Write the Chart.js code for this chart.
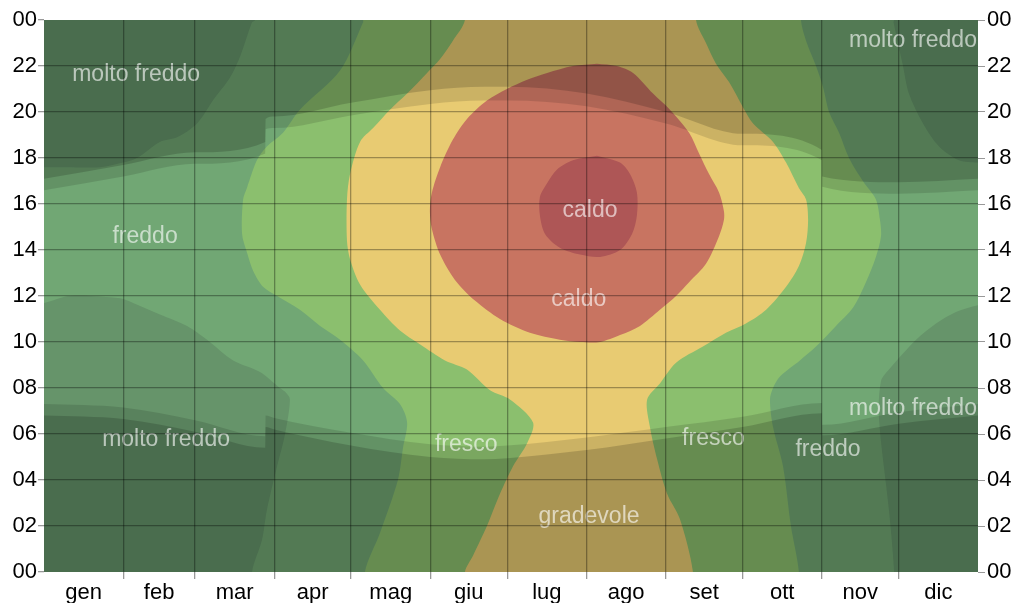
<!DOCTYPE html>
<html>
<head>
<meta charset="utf-8">
<script src="https://cdn.jsdelivr.net/npm/chart.js@4.4.1/dist/chart.umd.min.js"></script>
<style>
  html, body { margin: 0; padding: 0; background: #fff; }
  #wrap { width: 1016px; height: 603px; }
</style>
</head>
<body>
<div id="wrap"><canvas id="chart"></canvas></div>
<script>
// months (x axis is day of year 0..365)
const months = ['gen', 'feb', 'mar', 'apr', 'mag', 'giu', 'lug', 'ago', 'set', 'ott', 'nov', 'dic'];
const monthStarts = [0, 31, 59, 90, 120, 151, 181, 212, 243, 273, 304, 334, 365];
const hourTicks = [0, 2, 4, 6, 8, 10, 12, 14, 16, 18, 20, 22, 24];
const hourLabels = ['00', '02', '04', '06', '08', '10', '12', '14', '16', '18', '20', '22', '00'];

// temperature zones, each region = area at or above that level, as [day, hour]
const zoneNames = ['molto freddo', 'freddo', 'fresco', 'gradevole', 'caldo', 'caldo+'];
const moltoFreddoArea = [[-5, -2], [370, -2], [370, 26], [-5, 26], [-5, -2]];
const freddoArea = [
  [81, -2], [81.3, 0], [85.2, 1.4], [87.1, 2.7], [91.1, 4.6], [94.2, 6], [96.1, 7.5], [94.5, 7.8], [92.2, 8.0],
  [84.4, 8.7], [73.9, 9.2], [63.7, 10.1], [55.9, 10.7], [45.3, 11.2], [34.8, 11.7], [29.7, 11.9], [10.2, 12],
  [0, 11.7], [-3, 11.7], [-3, 17.6], [0, 17.6], [9, 17.6], [21.9, 17.6], [30.9, 17.8], [36.3, 18], [45.3, 18.7],
  [52, 18.9], [59.8, 19.5], [66, 20.5], [72.7, 21.5], [76.6, 22.4], [81.3, 23.9], [82.5, 24], [82.7, 26],
  [332.2, 26], [332.2, 24], [332, 23.9], [335.7, 22], [338, 20.8], [343.5, 19.5], [349.8, 18.5], [357.6, 17.9],
  [365, 17.8], [368, 17.8], [368, 11.6], [365, 11.6], [356.4, 11.3], [348.6, 10.8], [340.8, 10.1], [335.7, 9.5],
  [330.2, 8.8], [327.1, 8.3], [326.3, 6.7], [330.2, 2.7], [332.2, 0], [332.2, -2], [81, -2]
];
const frescoArea = [
  [124.7, 26], [124.7, 24], [124.7, 23.9], [115.7, 21.8], [100, 20.1], [93.4, 19.1], [87.1, 18.5], [83.2, 17.9],
  [79.3, 16.7], [77.8, 16.2], [77.4, 14.7], [79.3, 13.9], [81.7, 13.1], [85.6, 12.4], [91.1, 12], [100, 11.4],
  [107.9, 10.7], [115.7, 10.1], [124.7, 9.2], [132.5, 8], [139.1, 7.3], [141.9, 6.5], [140.3, 5.4], [138.3, 4],
  [131.3, 1.7], [125.4, 0], [125.4, -2], [295, -2], [295, 0], [291.9, 2], [288.8, 4.6], [284.9, 6.3],
  [283.7, 7.5], [284.9, 8], [287.6, 8.5], [295.4, 9.2], [301.7, 9.8], [309.5, 10.7], [316.2, 11.5], [321.2, 12.6],
  [325.1, 13.7], [327.1, 14.6], [326.7, 15.3], [325.1, 16.2], [320, 17], [314.6, 18], [310.7, 19.1], [306.8, 20],
  [304.4, 21.1], [301.7, 22], [297.8, 23.1], [295.8, 24], [295.8, 26], [124.7, 26]
];
const gradevoleArea = [
  [164.5, 26], [164.5, 24], [159.8, 23.1], [154.8, 22.3], [149.7, 21.7], [141.9, 20.8], [135.2, 20.1],
  [128.6, 19.3], [123.5, 18.7], [119.6, 17.3], [118.4, 16.2], [118.4, 14.4], [119.6, 13.6], [123.5, 12.5],
  [131.3, 11.4], [139.1, 10.5], [146.9, 9.9], [156.7, 9.2], [165.3, 8.8], [174.3, 7.9], [182.1, 7.5], [191.1, 6.5],
  [188.8, 5.6], [183.3, 4.6], [178.2, 3.4], [173.1, 2], [167.6, 0.7], [164.5, 0], [164.5, -2], [253.6, -2],
  [253.6, 0], [248.5, 2.3], [243.5, 3.4], [239.6, 4.9], [236.8, 6.3], [235.7, 7.5], [240.7, 8.2], [247, 9.1],
  [257.5, 9.8], [266.5, 10.4], [274.3, 10.8], [282.2, 11.4], [290, 12.4], [295, 13.3], [297.8, 14.3],
  [298.6, 15.3], [297.8, 16.2], [295, 16.7], [290, 17.8], [284.9, 18.7], [277.1, 19.5], [273.2, 20.2],
  [267.7, 21.3], [262.6, 22.1], [258.7, 23], [254.8, 24], [254.8, 26], [164.5, 26]
];
const caldoArea = [
  [216.1, 22.1], [223.9, 22], [230.2, 21.7], [238, 20.8], [244.6, 20.1], [252.1, 19.1], [256, 18.2], [259.9, 17.3],
  [263.8, 16.5], [265.7, 15.7], [265.7, 15.3], [263.8, 14.6], [258.7, 13.4], [252.1, 12.6], [247, 12],
  [240.7, 11.4], [232.9, 10.7], [225.1, 10.3], [217.3, 10], [209.5, 10], [201.6, 10.1], [189.9, 10.4],
  [178.2, 11], [168.4, 11.8], [160.6, 12.7], [154.8, 13.8], [151.6, 14.9], [150.8, 15.7], [151.6, 16.5],
  [154.8, 17.6], [159.8, 18.8], [165.3, 19.7], [173.1, 20.5], [180.9, 21], [188.8, 21.4], [196.6, 21.7],
  [206.7, 22], [216.1, 22.1]
];
const moltoCaldoArea = [
  [216.1, 18.1], [225.1, 17.8], [229, 17.3], [231.7, 16.5], [231.7, 15.5], [229.8, 14.7], [225.1, 14],
  [217.3, 13.7], [209.5, 13.8], [201.6, 14.1], [195.8, 14.7], [193.8, 15.5], [193.8, 16.3], [196.6, 16.9],
  [200.5, 17.5], [206.7, 17.9], [216.1, 18.1]
];

// daylight: sunrise / civil dawn and sunset / civil dusk (hours, with DST jumps)
const sunDays  = [0, 31, 59, 86.5, 86.6, 90, 120, 151, 172, 181, 212, 243, 273, 304, 304.1, 334, 365];
const sunrise  = [7.3, 7.15, 6.6, 5.9, 6.8, 6.7, 6.05, 5.55, 5.45, 5.5, 5.85, 6.3, 6.75, 7.35, 6.4, 6.95, 7.3];
const dawn     = [6.8, 6.65, 6.1, 5.4, 6.3, 6.2, 5.5, 5.0, 4.9, 4.95, 5.3, 5.8, 6.3, 6.9, 5.95, 6.45, 6.8];
const sunset   = [16.6, 17.2, 17.75, 18.2, 19.25, 19.3, 19.85, 20.35, 20.5, 20.5, 20.25, 19.5, 18.55, 17.9, 16.75, 16.45, 16.6];
const dusk     = [17.1, 17.7, 18.25, 18.7, 19.7, 19.8, 20.4, 20.95, 21.1, 21.1, 20.8, 20.0, 19.05, 18.35, 17.2, 16.95, 17.1];

// zone labels
const labelText = ['molto freddo', 'freddo', 'molto freddo', 'fresco', 'gradevole', 'caldo', 'caldo',
  'fresco', 'freddo', 'molto freddo', 'molto freddo'];
const labelDay  = [36, 39.5, 47.7, 165, 213, 209, 213.4, 261.6, 306.4, 339.6, 339.6];
const labelHour = [21.35, 14.3, 5.48, 5.26, 2.13, 11.57, 15.43, 5.52, 5.04, 6.83, 22.83];

const FONT = '"Liberation Sans", Arial, Helvetica, sans-serif';
const GRID = 'rgba(0,0,0,0.33)';

const toXY = pts => pts.map(p => ({ x: p[0], y: p[1] }));
const curve = vals => vals.map((v, i) => ({ x: sunDays[i], y: v }));

let order = 100;
function zone(points, color) {
  return {
    data: toXY(points), backgroundColor: color, borderColor: 'transparent', borderWidth: 0,
    pointRadius: 0, fill: 'shape', tension: 0.3, order: order--
  };
}
function shade(points, to, alpha) {
  return {
    data: points, backgroundColor: 'rgba(0,0,0,' + alpha + ')', borderColor: 'transparent', borderWidth: 0,
    pointRadius: 0, fill: to, cubicInterpolationMode: 'monotone', order: order--
  };
}

const xTicks = [];
months.forEach((m, i) => {
  xTicks.push(monthStarts[i]);
  xTicks.push((monthStarts[i] + monthStarts[i + 1]) / 2);
});
xTicks.push(365);
const isBoundary = v => monthStarts.includes(v);
const innerBoundary = c => c.tick && isBoundary(c.tick.value) && c.tick.value > 0 && c.tick.value < 365;

const labelsPlugin = {
  id: 'zoneLabels',
  afterDatasetsDraw(chart) {
    const { ctx, scales: { x, y } } = chart;
    ctx.save();
    ctx.font = '23px ' + FONT;
    ctx.fillStyle = 'rgba(255,255,255,0.62)';
    ctx.textAlign = 'center';
    ctx.textBaseline = 'alphabetic';
    labelText.forEach((t, i) => {
      ctx.fillText(t, x.getPixelForValue(labelDay[i]), y.getPixelForValue(labelHour[i]));
    });
    ctx.restore();
  }
};

const yTicks = {
  color: '#000',
  font: { size: 22, family: FONT },
  callback: v => hourLabels[hourTicks.indexOf(v)]
};

new Chart(document.getElementById('chart'), {
  type: 'line',
  data: {
    datasets: [
      zone(moltoFreddoArea, '#66946a'),
      zone(freddoArea, '#71a774'),
      zone(frescoArea, '#8bbf6e'),
      zone(gradevoleArea, '#e8cb72'),
      zone(caldoArea, '#c87461'),
      zone(moltoCaldoArea, '#ae5656'),
      shade(curve(sunrise), 'start', 0.12),
      shade(curve(dawn), 'start', 0.16),
      shade(curve(sunset), 'end', 0.12),
      shade(curve(dusk), 'end', 0.16)
    ]
  },
  options: {
    responsive: true,
    maintainAspectRatio: false,
    animation: false,
    events: [],
    layout: { padding: { top: 20 } },
    plugins: { legend: { display: false }, tooltip: { enabled: false } },
    scales: {
      x: {
        type: 'linear', min: 0, max: 365,
        afterBuildTicks: axis => { axis.ticks = xTicks.map(v => ({ value: v })); },
        afterFit: s => { s.height = 31; },
        ticks: {
          autoSkip: false, maxRotation: 0, padding: 1, color: '#000', z: 1,
          font: { size: 22, family: FONT },
          callback: v => isBoundary(v) ? '' : months[monthStarts.findIndex(s => s > v) - 1]
        },
        grid: {
          z: 1, lineWidth: 1.3, tickLength: 7,
          color: c => innerBoundary(c) ? GRID : 'transparent',
          tickColor: c => innerBoundary(c) ? '#999' : 'transparent'
        },
        border: { display: false }
      },
      y: {
        type: 'linear', position: 'left', min: 0, max: 24,
        afterBuildTicks: axis => { axis.ticks = hourTicks.map(v => ({ value: v })); },
        afterFit: s => { s.width = 44; },
        ticks: Object.assign({ padding: 1, z: 1 }, yTicks),
        grid: {
          z: 1, lineWidth: 1.3, tickLength: 6, tickColor: '#999',
          color: c => (c.tick && c.tick.value > 0 && c.tick.value < 24) ? GRID : 'transparent'
        },
        border: { display: false }
      },
      y2: {
        type: 'linear', position: 'right', min: 0, max: 24,
        afterBuildTicks: axis => { axis.ticks = hourTicks.map(v => ({ value: v })); },
        afterFit: s => { s.width = 38; },
        ticks: Object.assign({ padding: 2, z: 1 }, yTicks),
        grid: { z: 1, drawOnChartArea: false, tickLength: 7, tickColor: '#999' },
        border: { display: false }
      }
    }
  },
  plugins: [labelsPlugin]
});
</script>
</body>
</html>
